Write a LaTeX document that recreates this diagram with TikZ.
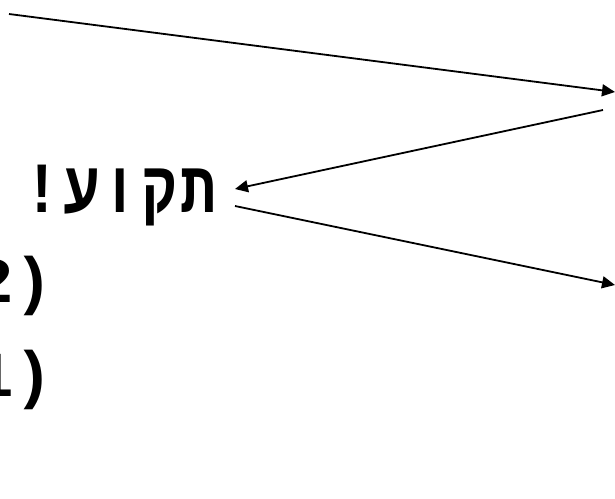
\documentclass[tikz,border=0pt]{standalone}
\usepackage{fontspec}
\usepackage{graphicx}
\usetikzlibrary{arrows.meta}
\TeXXeTstate=1
\newfontfamily\hebmono[Script=Hebrew,LetterSpace=6]{Liberation Mono}
\newfontfamily\latmono{Liberation Mono}
\tikzset{
  conn/.style={line width=1.8pt, -{Triangle[length=13pt,width=12pt]}},
  bigtext/.style={inner sep=0pt, font=\fontsize{64}{70}\selectfont\bfseries},
  hebtext/.style={inner sep=0pt, font=\fontsize{72}{78}\selectfont\bfseries}
}
\begin{document}
\begin{tikzpicture}[x=1pt,y=-1pt]
\useasboundingbox[fill=white] (0,0) rectangle (615,498);
\node[hebtext, anchor=base east] (heb) at (216,212) {\scalebox{0.82}[1]{\hebmono\beginR תקוע!\endR}};
\node[bigtext, anchor=base east] (two) at (53,302) {\latmono 2)};
\node[bigtext, anchor=base east] (one) at (53,396) {\latmono 1)};
\coordinate (p1s) at (9,14);
\coordinate (p1e) at (615,92);
\coordinate (p2s) at (603,110);
\coordinate (p2e) at (235,189);
\coordinate (p3s) at (235,206);
\coordinate (p3e) at (615,285);
\draw[conn] (p1s) -- (p1e);
\draw[conn] (p2s) -- (p2e);
\draw[conn] (p3s) -- (p3e);
\end{tikzpicture}
\end{document}
